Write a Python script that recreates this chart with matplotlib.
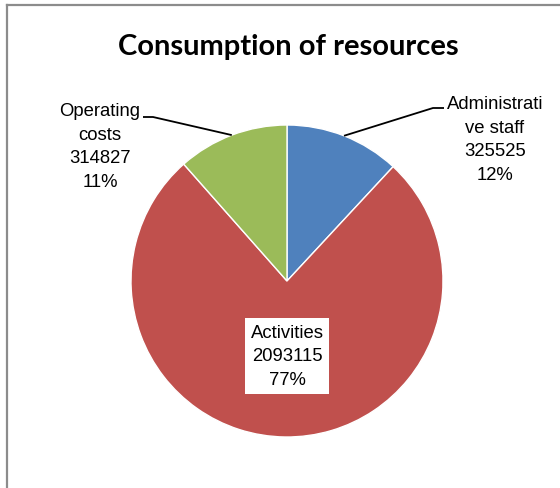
import numpy as np
import matplotlib.pyplot as plt
from matplotlib.lines import Line2D

# data
categories = ['Administrative staff', 'Activities', 'Operating costs']
label_text = ['Administrati\nve staff', 'Activities', 'Operating\ncosts']
values = [325525, 2093115, 314827]
percents = ['12%', '77%', '11%']
colors = ['#4F81BD', '#C0504D', '#9BBB59']

W, H = 560, 489
fig = plt.figure(figsize=(W / 100, H / 100), dpi=100)
ax = fig.add_axes([0, 0, 1, 1])

cx, cy, r = 287, H - 282, 156
wedges, _ = ax.pie(values, colors=colors, startangle=90, counterclock=False,
                   center=(cx, cy), radius=r,
                   wedgeprops=dict(edgecolor='white', linewidth=1))
ax.set_xlim(0, W)
ax.set_ylim(0, H)
ax.axis('off')

font = dict(family=['Liberation Sans', 'DejaVu Sans'], fontsize=13.3,
            ha='center', va='center', linespacing=1.52, color='black')

# label positions (pixel coords from top) and elbow points of leader lines
text_pos = [(495, 140), (287, 357), (100, 147)]
elbow = [[(433, 109), (444, 109)], None, [(153, 118), (143, 118)]]

for i, w in enumerate(wedges):
    s = f'{label_text[i]}\n{values[i]}\n{percents[i]}'
    tx, ty = text_pos[i]
    if elbow[i] is None:
        ax.text(tx, H - ty, s, bbox=dict(facecolor='white', edgecolor='none', pad=4), **font)
        continue
    ax.text(tx, H - ty, s, **font)
    mid = np.deg2rad((w.theta1 + w.theta2) / 2)
    px, py = cx + r * np.cos(mid), cy + r * np.sin(mid)
    xs = [px] + [p[0] for p in elbow[i]]
    ys = [py] + [H - p[1] for p in elbow[i]]
    ax.plot(xs, ys, color='black', lw=1.3, solid_capstyle='butt')

ax.text(288, H - 47, 'Consumption of resources', family=['Lato', 'DejaVu Sans'],
        fontweight='bold', fontsize=21, ha='center', va='center')

# chart area border (cut off at right and bottom)
ax.add_line(Line2D([7, 7], [H - 6, -5], color='#8c8c8c', lw=1.6))
ax.add_line(Line2D([7, W + 5], [H - 6, H - 6], color='#8c8c8c', lw=1.6))

fig.savefig('out.png', dpi=100)
